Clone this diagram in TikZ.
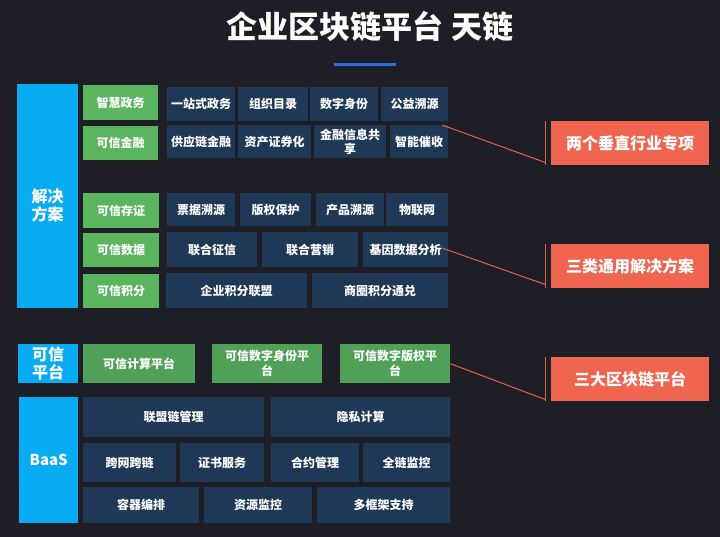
\documentclass[tikz,border=0pt]{standalone}
\usepackage{fontspec}
\setmainfont{Noto Sans CJK SC}
\usepackage{tikz}

\definecolor{bgdark}{HTML}{1D1E26}
\definecolor{sideblue}{HTML}{07ACF2}
\definecolor{tagGreen}{HTML}{5AB55E}
\definecolor{platGreen}{HTML}{50A058}
\definecolor{cellNavy}{HTML}{1F3856}
\definecolor{calloutRed}{HTML}{EF6550}
\definecolor{leadRed}{HTML}{E3614D}
\definecolor{barBlue}{HTML}{2A6DD9}

\begin{document}
\begin{tikzpicture}[x=1pt, y=-1pt]
        \tikzset{base/.style={anchor=north west, inner sep=0pt, align=center, text=white, font=\bfseries\fontsize{12}{14}\selectfont},
            sidebox/.style={base, fill=sideblue, font=\bfseries\fontsize{16}{18}\selectfont},
            tag/.style={base, fill=tagGreen},
            plat/.style={base, fill=platGreen, font=\bfseries\fontsize{12}{15}\selectfont},
            cell/.style={base, fill=cellNavy},
            callout/.style={base, fill=calloutRed, minimum width=158pt, minimum height=44pt, font=\bfseries\fontsize{16}{18}\selectfont},
            lead/.style={draw=leadRed, line width=1pt}}
        \fill[bgdark] (0,0) rectangle (720,537);
        \useasboundingbox (0,0) rectangle (720,537);
        % title
        \node[text=white, font=\bfseries\fontsize{31}{34}\selectfont] (title) at (370,26) {企业区块链平台 天链};
        \draw[barBlue, line width=3.5pt] (334,64.5) -- (396,64.5);
        % left column
        \node[sidebox, minimum width=61pt, minimum height=224pt] (sol) at (17,84) {};
        \node[align=center, text=white, font=\bfseries\fontsize{16}{18}\selectfont] (soltext) at ([yshift=-9pt]sol.center) {解决\\方案};
        \node[sidebox, minimum width=60pt, minimum height=39pt] (trust) at (18,344) {可信\\平台};
        \node[sidebox, minimum width=59pt, minimum height=126pt, font=\bfseries\fontsize{15}{18}\selectfont] (baas) at (19,397) {BaaS};
        % solution tags
        \node[tag, minimum width=75pt, minimum height=35pt] (g1) at (83,85) {智慧政务};
        \node[tag, minimum width=75pt, minimum height=34pt] (g2) at (83,126) {可信金融};
        \node[tag, minimum width=76pt, minimum height=35pt] (g3) at (83,193) {可信存证};
        \node[tag, minimum width=76pt, minimum height=34pt] (g4) at (83,233) {可信数据};
        \node[tag, minimum width=76pt, minimum height=34pt] (g5) at (83,274) {可信积分};
        % row 1
        \node[cell, minimum width=68pt, minimum height=34pt] (a1) at (167,87) {一站式政务};
        \node[cell, minimum width=70pt, minimum height=34pt] (a2) at (238,87) {组织目录};
        \node[cell, minimum width=68pt, minimum height=34pt] (a3) at (310,87) {数字身份};
        \node[cell, minimum width=67pt, minimum height=34pt] (a4) at (381,87) {公益溯源};
        % row 2
        \node[cell, minimum width=68pt, minimum height=33pt] (b1) at (167,125) {供应链金融};
        \node[cell, minimum width=73pt, minimum height=33pt] (b2) at (238,125) {资产证券化};
        \node[cell, minimum width=72pt, minimum height=33pt] (b3) at (314,125) {金融信息共\\享};
        \node[cell, minimum width=58pt, minimum height=33pt] (b4) at (390,125) {智能催收};
        % row 3
        \node[cell, minimum width=68pt, minimum height=33pt] (c1) at (167,193) {票据溯源};
        \node[cell, minimum width=71pt, minimum height=33pt] (c2) at (240,193) {版权保护};
        \node[cell, minimum width=68pt, minimum height=33pt] (c3) at (316,193) {产品溯源};
        \node[cell, minimum width=62pt, minimum height=33pt] (c4) at (386,193) {物联网};
        % row 4
        \node[cell, minimum width=90pt, minimum height=35pt] (d1) at (167,232) {联合征信};
        \node[cell, minimum width=96pt, minimum height=35pt] (d2) at (262,232) {联合营销};
        \node[cell, minimum width=85pt, minimum height=35pt] (d3) at (363,232) {基因数据分析};
        % row 5
        \node[cell, minimum width=141pt, minimum height=35pt] (e1) at (166,273) {企业积分联盟};
        \node[cell, minimum width=136pt, minimum height=35pt] (e2) at (312,273) {商圈积分通兑};
        % trusted platforms
        \node[plat, minimum width=112pt, minimum height=39pt] (p1) at (83,344) {可信计算平台};
        \node[plat, minimum width=110pt, minimum height=39pt] (p2) at (212,344) {可信数字身份平\\台};
        \node[plat, minimum width=110pt, minimum height=39pt] (p3) at (340,344) {可信数字版权平\\台};
        % BaaS
        \node[cell, minimum width=181pt, minimum height=40pt] (f1) at (83,397) {联盟链管理};
        \node[cell, minimum width=179pt, minimum height=40pt] (f2) at (271,397) {隐私计算};
        \node[cell, minimum width=93pt, minimum height=39pt] (h1) at (83,443) {跨网跨链};
        \node[cell, minimum width=84pt, minimum height=39pt] (h2) at (180,443) {证书服务};
        \node[cell, minimum width=88pt, minimum height=39pt] (h3) at (271,443) {合约管理};
        \node[cell, minimum width=87pt, minimum height=39pt] (h4) at (363,443) {全链监控};
        \node[cell, minimum width=116pt, minimum height=36pt] (k1) at (83,487) {容器编排};
        \node[cell, minimum width=108pt, minimum height=36pt] (k2) at (204,487) {资源监控};
        \node[cell, minimum width=133pt, minimum height=36pt] (k3) at (317,487) {多框架支持};
        % callouts
        \node[callout] (n1) at (551,121) {两个垂直行业专项};
        \node[callout] (n2) at (551,244) {三类通用解决方案};
        \node[callout] (n3) at (551,357) {三大区块链平台};
        \coordinate (q1) at (442,125);
        \coordinate (q2) at (442,248);
        \draw[lead] (q1) -- ([xshift=-6pt,yshift=3pt]n1.south west);
        \draw[lead] (q2) -- ([xshift=-6pt,yshift=4pt]n2.south west);
        \draw[lead] (p3.east) -- ([xshift=-6pt,yshift=2pt]n3.south west);
        \draw[lead] ([xshift=-6pt]n1.north west) -- ([xshift=-6pt]n1.south west);
        \draw[lead] ([xshift=-6pt]n2.north west) -- ([xshift=-6pt]n2.south west);
        \draw[lead] ([xshift=-6pt]n3.north west) -- ([xshift=-6pt]n3.south west);
\end{tikzpicture}
\end{document}
